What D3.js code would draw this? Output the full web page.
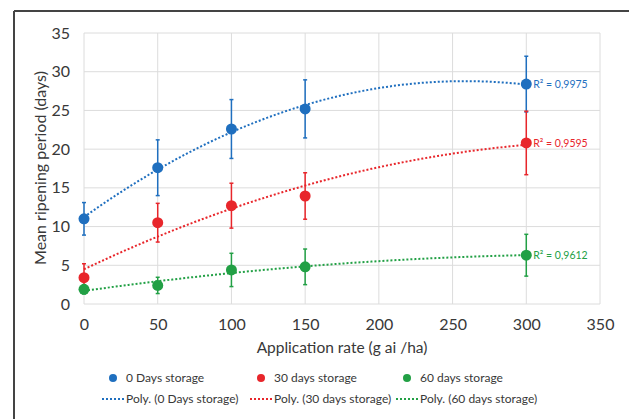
<!DOCTYPE html>
<html>
<head>
<meta charset="utf-8">
<script src="https://cdn.jsdelivr.net/npm/d3@7"></script>
<style>
  body { margin: 0; background: #fff; }
  text { font-family: Lato, "Open Sans", sans-serif; }
</style>
</head>
<body>
<div id="chart"></div>
<script>
// application rates (g ai /ha)
var rates = [0, 50, 100, 150, 300];

// mean ripening period per storage time
var days0 = [11.0, 17.6, 22.6, 25.2, 28.4];
var days30 = [3.4, 10.5, 12.7, 13.95, 20.8];
var days60 = [1.9, 2.4, 4.4, 4.8, 6.3];

// error bar half-widths
var err0 = [2.1, 3.6, 3.8, 3.75, 3.6];
var err30 = [1.8, 2.5, 2.9, 3.0, 4.1];
var err60 = [0.6, 1.05, 2.15, 2.3, 2.7];

var seriesNames = ["0 Days storage", "30 days storage", "60 days storage"];
var r2Labels = ["R² = 0,9975", "R² = 0,9595", "R² = 0,9612"];
var colors = ["#1f6fbf", "#e8262b", "#22a045"];

var xTicks = [0, 50, 100, 150, 200, 250, 300, 350];
var yTicks = [0, 5, 10, 15, 20, 25, 30, 35];

var series = [
  {name: seriesNames[0], values: days0, err: err0, color: colors[0], r2: r2Labels[0]},
  {name: seriesNames[1], values: days30, err: err30, color: colors[1], r2: r2Labels[1]},
  {name: seriesNames[2], values: days60, err: err60, color: colors[2], r2: r2Labels[2]}
];

// least squares 2nd order polynomial (like Excel's Poly. trendline)
function polyFit(xs, ys) {
  var s = [0, 0, 0, 0, 0], t = [0, 0, 0];
  xs.forEach(function(x, i) {
    for (var k = 0; k < 5; k++) s[k] += Math.pow(x, k);
    for (var k = 0; k < 3; k++) t[k] += Math.pow(x, k) * ys[i];
  });
  var A = [[s[0], s[1], s[2], t[0]], [s[1], s[2], s[3], t[1]], [s[2], s[3], s[4], t[2]]];
  for (var i = 0; i < 3; i++) {
    for (var j = i + 1; j < 3; j++) {
      var f = A[j][i] / A[i][i];
      for (var k = i; k < 4; k++) A[j][k] -= f * A[i][k];
    }
  }
  var c = [0, 0, 0];
  for (var i = 2; i >= 0; i--) {
    var v = A[i][3];
    for (var k = i + 1; k < 3; k++) v -= A[i][k] * c[k];
    c[i] = v / A[i][i];
  }
  return function(x) { return c[0] + c[1] * x + c[2] * x * x; };
}

var W = 629, H = 419;
var svg = d3.select("#chart").append("svg")
  .attr("width", W).attr("height", H);

// frame lines (top and left only)
svg.append("line").attr("x1", 14).attr("x2", W).attr("y1", 11).attr("y2", 11)
  .attr("stroke", "#444").attr("stroke-width", 2);
svg.append("line").attr("x1", 14).attr("x2", 14).attr("y1", 11).attr("y2", H)
  .attr("stroke", "#444").attr("stroke-width", 2);

var x = d3.scaleLinear().domain([0, 350]).range([84, 600]);
var y = d3.scaleLinear().domain([0, 35]).range([304, 33]);

// grid
svg.append("g").selectAll("line").data(xTicks).enter().append("line")
  .attr("x1", function(d) { return x(d); }).attr("x2", function(d) { return x(d); })
  .attr("y1", y(0)).attr("y2", y(35))
  .attr("stroke", "#dcdcdc").attr("stroke-width", 1);
svg.append("g").selectAll("line").data(yTicks).enter().append("line")
  .attr("x1", x(0)).attr("x2", x(350))
  .attr("y1", function(d) { return y(d); }).attr("y2", function(d) { return y(d); })
  .attr("stroke", "#dcdcdc").attr("stroke-width", 1);

// axes (labels only)
var xAxis = svg.append("g")
  .attr("transform", "translate(0," + y(0) + ")")
  .call(d3.axisBottom(x).tickValues(xTicks).tickSize(0).tickPadding(15));
var yAxis = svg.append("g")
  .attr("transform", "translate(" + x(0) + ",0)")
  .call(d3.axisLeft(y).tickValues(yTicks).tickSize(0).tickPadding(14));
[xAxis, yAxis].forEach(function(a) {
  a.select(".domain").remove();
  a.selectAll("text").style("font-family", "Lato, sans-serif")
    .style("font-size", "16px").attr("fill", "#383838");
});

// axis titles
svg.append("text")
  .attr("x", 342).attr("y", 353)
  .attr("text-anchor", "middle")
  .style("font-size", "15.5px").attr("fill", "#383838")
  .text("Application rate (g ai /ha)");
svg.append("text")
  .attr("transform", "translate(46,168) rotate(-90)")
  .attr("text-anchor", "middle")
  .style("font-size", "16px").attr("fill", "#383838")
  .text("Mean ripening period (days)");

// trendlines
var line = d3.line()
  .x(function(d) { return x(d[0]); })
  .y(function(d) { return y(d[1]); });
series.forEach(function(s) {
  var f = polyFit(rates, s.values);
  var pts = d3.range(0, 301, 5).map(function(r) { return [r, f(r)]; });
  svg.append("path")
    .attr("d", line(pts))
    .attr("fill", "none")
    .attr("stroke", s.color)
    .attr("stroke-width", 2)
    .attr("stroke-dasharray", "2,2");
});

// error bars and points
series.forEach(function(s) {
  var g = svg.append("g");
  var data = rates.map(function(r, i) { return {r: r, v: s.values[i], e: s.err[i]}; });
  g.selectAll(".eb").data(data).enter().append("line")
    .attr("x1", function(d) { return x(d.r); }).attr("x2", function(d) { return x(d.r); })
    .attr("y1", function(d) { return y(d.v - d.e); }).attr("y2", function(d) { return y(d.v + d.e); })
    .attr("stroke", s.color).attr("stroke-width", 1.5);
  ["lo", "hi"].forEach(function(side) {
    g.selectAll(".cap" + side).data(data).enter().append("line")
      .attr("x1", function(d) { return x(d.r) - 2; }).attr("x2", function(d) { return x(d.r) + 2; })
      .attr("y1", function(d) { return y(side == "lo" ? d.v - d.e : d.v + d.e); })
      .attr("y2", function(d) { return y(side == "lo" ? d.v - d.e : d.v + d.e); })
      .attr("stroke", s.color).attr("stroke-width", 1.5);
  });
  g.selectAll("circle").data(data).enter().append("circle")
    .attr("cx", function(d) { return x(d.r); })
    .attr("cy", function(d) { return y(d.v); })
    .attr("r", 5.5)
    .attr("fill", s.color);
  // R² label next to last point
  var last = data[data.length - 1];
  svg.append("text")
    .attr("x", x(last.r) + 7).attr("y", y(last.v) + 4)
    .style("font-size", "10.5px").attr("fill", s.color)
    .text(s.r2);
});

// legend
var legX = [113, 261, 407];
var leg = svg.append("g");
series.forEach(function(s, i) {
  leg.append("circle").attr("cx", legX[i]).attr("cy", 378).attr("r", 4).attr("fill", s.color);
  leg.append("text").attr("x", legX[i] + 13).attr("y", 382)
    .style("font-size", "12px").attr("fill", "#383838").text(s.name);
  leg.append("line")
    .attr("x1", legX[i] - 11).attr("x2", legX[i] + 11)
    .attr("y1", 399).attr("y2", 399)
    .attr("stroke", s.color).attr("stroke-width", 2).attr("stroke-dasharray", "2,2");
  leg.append("text").attr("x", legX[i] + 13).attr("y", 403)
    .style("font-size", "12px").attr("fill", "#383838").text("Poly. (" + s.name + ")");
});
</script>
</body>
</html>
